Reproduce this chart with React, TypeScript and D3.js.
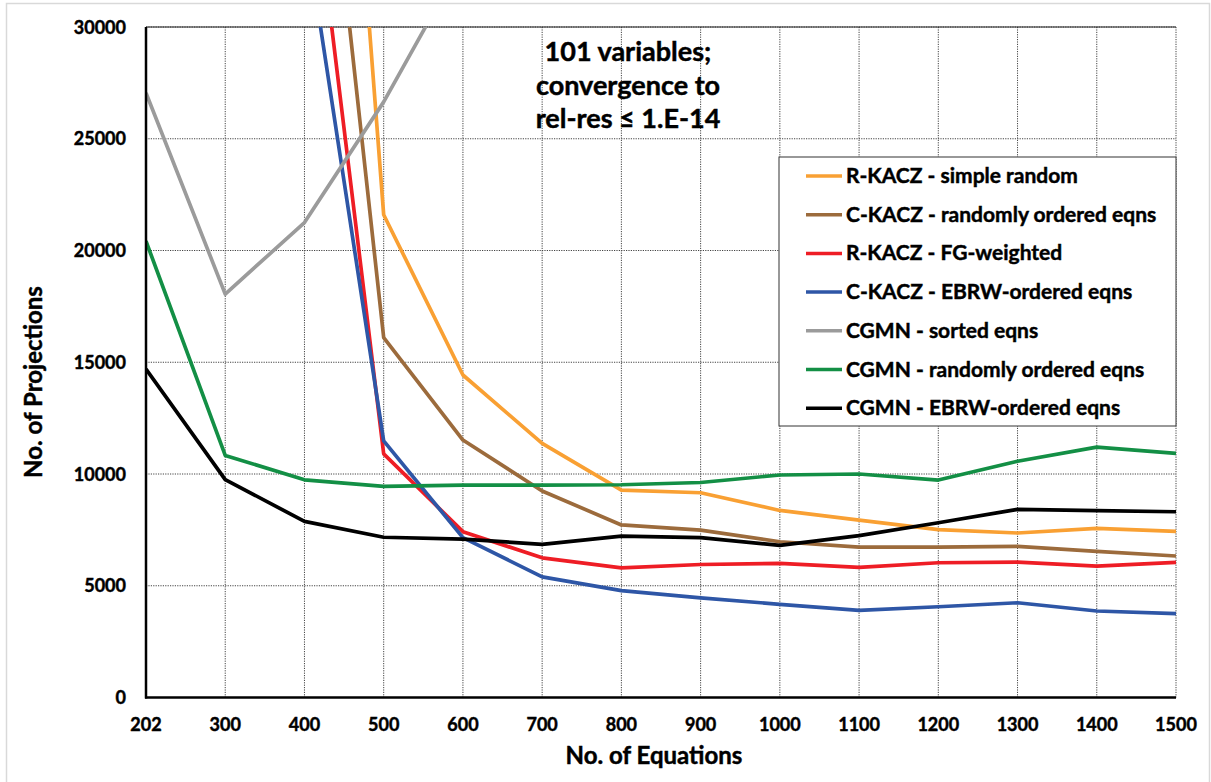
import * as d3 from 'd3';

// Chart data
const categories = ['202', '300', '400', '500', '600', '700', '800', '900', '1000', '1100', '1200', '1300', '1400', '1500'];
const yTicks = [0, 5000, 10000, 15000, 20000, 25000, 30000];

type V = number | null;
const rKaczSimple: V[] = [null, null, 68000, 21600, 14430, 11370, 9280, 9160, 8370, 7940, 7510, 7360, 7570, 7430];
const cKaczRandom: V[] = [null, null, 48400, 16100, 11520, 9240, 7720, 7490, 6970, 6730, 6730, 6760, 6540, 6330];
const rKaczFG: V[] = [null, null, 40000, 10900, 7420, 6250, 5800, 5950, 6000, 5820, 6030, 6060, 5880, 6045];
const cKaczEBRW: V[] = [null, null, 34700, 11480, 7150, 5400, 4780, 4460, 4170, 3900, 4060, 4240, 3870, 3750];
const cgmnSorted: V[] = [27050, 18050, 21250, 26650, 33000, null, null, null, null, null, null, null, null, null];
const cgmnRandom: V[] = [20420, 10830, 9740, 9450, 9500, 9500, 9520, 9620, 9955, 10000, 9730, 10570, 11200, 10920];
const cgmnEBRW: V[] = [14700, 9750, 7880, 7170, 7090, 6850, 7220, 7150, 6810, 7240, 7820, 8420, 8360, 8310];

const seriesNames = [
  'R-KACZ - simple random',
  'C-KACZ - randomly ordered eqns',
  'R-KACZ - FG-weighted',
  'C-KACZ - EBRW-ordered eqns',
  'CGMN - sorted eqns',
  'CGMN - randomly ordered eqns',
  'CGMN - EBRW-ordered eqns',
];
const seriesValues = [rKaczSimple, cKaczRandom, rKaczFG, cKaczEBRW, cgmnSorted, cgmnRandom, cgmnEBRW];
const seriesColors = ['#F9A033', '#9C6B3C', '#EE1D25', '#2E56A6', '#9B9B9B', '#138F45', '#000000'];

const annotation = ['101 variables;', 'convergence to', 'rel-res ≤ 1.E-14'];

export default function App() {
  const width = 1211;
  const height = 782;
  const plot = { left: 146, right: 1176, top: 27, bottom: 697.5 };
  const font = 'Lato, "Open Sans", sans-serif';
  // a thin outline makes Lato bold read closer to the heavier original face
  const heavy = { fontFamily: font, fontWeight: 'bold' as const, stroke: '#000', strokeWidth: 0.45 };

  const x = d3.scalePoint<string>().domain(categories).range([plot.left, plot.right]).padding(0);
  const y = d3.scaleLinear().domain([0, 30000]).range([plot.bottom, plot.top]);

  const line = d3
    .line<V>()
    .defined(d => d != null)
    .x((d, i) => x(categories[i]) as number)
    .y(d => y(d as number));

  // legend layout
  const legend = { x: 779, y: 157, w: 397, h: 269, row0: 176, rowStep: 38.7 };

  return (
    <svg width={width} height={height} style={{ position: 'absolute', left: 0, top: 0, background: '#fff' }}>
      <defs>
        <clipPath id="plotClip">
          <rect x={plot.left} y={plot.top} width={plot.right - plot.left} height={plot.bottom - plot.top} />
        </clipPath>
      </defs>

      {/* chart area border */}
      <rect x={6.5} y={3.5} width={1203} height={800} fill="#fff" stroke="#d9d9d9" strokeWidth={1.5} />

      {/* gridlines */}
      {yTicks.map(t => (
        <line key={'gy' + t} x1={plot.left} x2={plot.right} y1={y(t)} y2={y(t)}
          stroke="#444" strokeWidth={1} strokeDasharray="1.2 1.2" />
      ))}
      {categories.map(c => (
        <line key={'gx' + c} x1={x(c)} x2={x(c)} y1={plot.top} y2={plot.bottom}
          stroke="#444" strokeWidth={1} strokeDasharray="1.2 1.2" />
      ))}
      <line x1={plot.left} x2={plot.right} y1={plot.top} y2={plot.top} stroke="#222" strokeWidth={1} />

      {/* series */}
      <g clipPath="url(#plotClip)">
        {seriesValues.map((vals, i) => (
          <path key={seriesNames[i]} d={line(vals) ?? ''} fill="none" stroke={seriesColors[i]}
            strokeWidth={3.7} strokeLinejoin="round" />
        ))}
      </g>

      {/* axes */}
      <line x1={plot.left} x2={plot.left} y1={plot.top} y2={plot.bottom + 1} stroke="#000" strokeWidth={2.5} />
      <line x1={plot.left - 1} x2={plot.right} y1={plot.bottom} y2={plot.bottom} stroke="#000" strokeWidth={2.5} />

      {/* tick labels */}
      {yTicks.map(t => (
        <text key={'ty' + t} x={126} y={y(t) + 6.5} textAnchor="end" fontSize={18} {...heavy}>
          {t}
        </text>
      ))}
      {categories.map(c => (
        <text key={'tx' + c} x={x(c)} y={731} textAnchor="middle" fontSize={18} {...heavy}>
          {c}
        </text>
      ))}

      {/* axis titles */}
      <text x={654} y={764} textAnchor="middle" fontSize={24} {...heavy}>
        No. of Equations
      </text>
      <text transform="translate(42,382) rotate(-90)" textAnchor="middle" fontSize={24} {...heavy}>
        No. of Projections
      </text>

      {/* annotation */}
      {annotation.map((s, i) => (
        <text key={s} x={628} y={61 + i * 33.5} textAnchor="middle" fontSize={27} {...heavy}>
          {s}
        </text>
      ))}

      {/* legend */}
      <rect x={legend.x} y={legend.y} width={legend.w} height={legend.h} fill="#fff" stroke="#333" strokeWidth={1} />
      {seriesNames.map((name, i) => {
        const ry = legend.row0 + i * legend.rowStep;
        return (
          <g key={'lg' + name}>
            <line x1={806} x2={842} y1={ry} y2={ry} stroke={seriesColors[i]} strokeWidth={3.5} />
            <text x={846} y={ry + 7} fontSize={21} {...heavy}>
              {name}
            </text>
          </g>
        );
      })}
    </svg>
  );
}
